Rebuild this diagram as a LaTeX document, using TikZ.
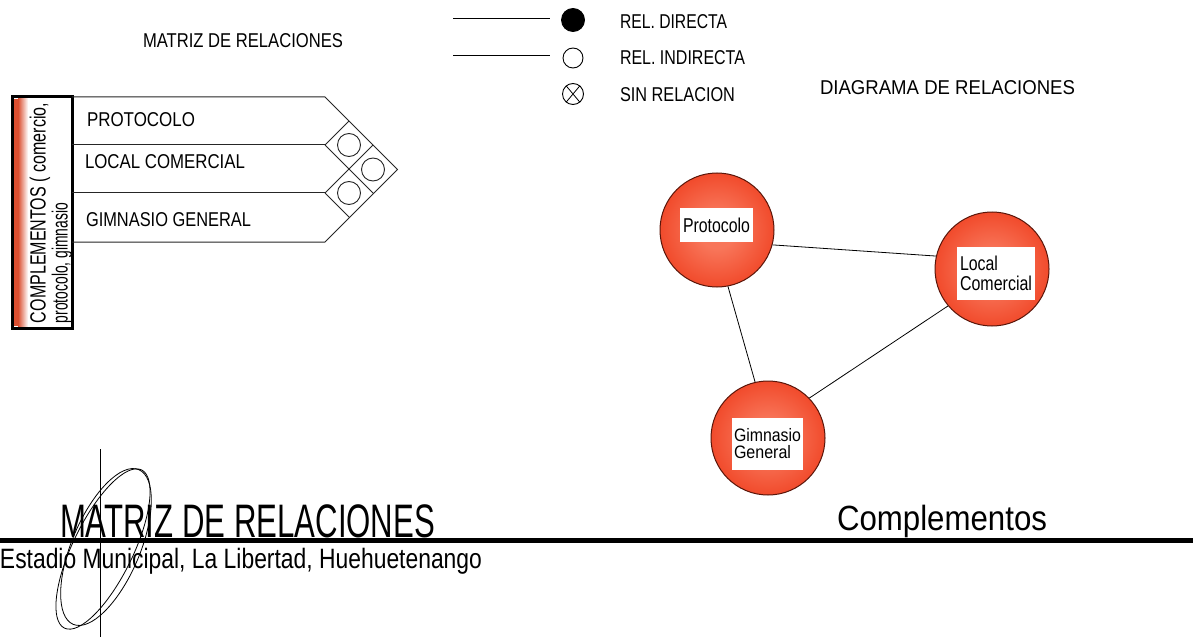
\documentclass[tikz,border=0pt]{standalone}
\usepackage{fontspec}
\setmainfont{Liberation Sans}
\usepackage{graphicx}
\newcommand{\fw}[2]{\resizebox{#1pt}{\height}{#2}}
\definecolor{ballin}{RGB}{248,118,90}
\definecolor{ballmid}{RGB}{239,62,30}
\definecolor{ballout}{RGB}{222,40,16}
\definecolor{ballrim}{RGB}{90,22,10}
\definecolor{stripred}{RGB}{218,78,48}
\pgfdeclareradialshading{redball}{\pgfpoint{0bp}{0bp}}{color(0bp)=(ballin); color(8bp)=(ballin); color(30bp)=(ballmid); color(47bp)=(ballout); color(50bp)=(ballout)}
\tikzset{
  txt/.style={inner sep=0pt, outer sep=0pt},
  bubble/.style={circle, minimum size=114pt, inner sep=0pt, draw=ballrim, line width=1pt, shading=redball},
  lab/.style={fill=white, inner sep=0pt, align=left},
  conn/.style={line width=0.8pt, black},
  mline/.style={line width=1pt, black!85},
  cell/.style={circle, draw=black!85, line width=0.9pt, minimum size=23pt, inner sep=0pt},
  legdot/.style={circle, draw=black, line width=0.9pt, inner sep=0pt},
}
\begin{document}
\begin{tikzpicture}[x=1pt,y=-1pt]
\useasboundingbox (0,0) rectangle (1193,639);
\fill[white] (0,0) rectangle (1193,639);

% ---------- top title ----------
\node[txt, anchor=west, font=\fontsize{20}{20}\selectfont] (mt) at (143,41) {\fw{200}{MATRIZ DE RELACIONES}};

% ---------- legend ----------
\coordinate (l1a) at (453,19);
\coordinate (l1b) at (550,19);
\coordinate (l2a) at (453,56);
\coordinate (l2b) at (550,56);
\node[legdot, fill=black, minimum size=23pt] (d1) at (573,20) {};
\node[legdot, minimum size=20pt] (d2) at (573,58) {};
\node[legdot, minimum size=21pt] (d3) at (573,94) {};
\draw[conn, line width=1pt] (l1a) -- (l1b);
\draw[conn, line width=1pt] (l2a) -- (l2b);
\draw[line width=0.8pt] (d3.50) -- (d3.230) (d3.130) -- (d3.-50);
\node[txt, anchor=west, font=\fontsize{20}{20}\selectfont] (t1) at (620,22) {\fw{107}{REL. DIRECTA}};
\node[txt, anchor=west, font=\fontsize{20}{20}\selectfont] (t2) at (620,58) {\fw{125}{REL. INDIRECTA}};
\node[txt, anchor=west, font=\fontsize{20}{20}\selectfont] (t3) at (620,95) {\fw{115}{SIN RELACION}};

\node[txt, anchor=west, font=\fontsize{20}{20}\selectfont] (dt) at (820,88) {\fw{255}{DIAGRAMA DE RELACIONES}};

% ---------- matrix ----------
\fill[stripred] (14,99) rectangle (18,326);
\shade[left color=stripred, right color=white] (18,99) rectangle (28,326);
\draw[line width=3pt] (12,97) rectangle (72,328);
\node[txt, rotate=90, anchor=west, font=\fontsize{22}{22}\selectfont] (v1) at (40,323) {\fw{220}{COMPLEMENTOS ( comercio,}};
\node[txt, rotate=90, anchor=west, font=\fontsize{22}{22}\selectfont] (v2) at (62,323) {\fw{120}{protocolo, gimnasio}};

\draw[mline] (72,97) -- (325,97) -- (397.5,169.5) -- (325,242) -- (72,242);
\draw[mline] (72,145) -- (325,145);
\draw[mline] (72,193) -- (325,193);
\draw[mline] (325,145) -- (373.5,193.5);
\draw[mline] (325,193) -- (349.5,217.5);
\draw[mline] (325,193) -- (373,145);
\draw[mline] (325,145) -- (349,121);
\node[cell] (c12) at (349,145) {};
\node[cell] (c23) at (349,193) {};
\node[cell] (c13) at (373,169.5) {};

\node[txt, anchor=west, font=\fontsize{20}{20}\selectfont] (r1) at (87,120) {\fw{108}{PROTOCOLO}};
\node[txt, anchor=west, font=\fontsize{20}{20}\selectfont] (r2) at (85,162) {\fw{160}{LOCAL COMERCIAL}};
\node[txt, anchor=west, font=\fontsize{20}{20}\selectfont] (r3) at (86,220) {\fw{165}{GIMNASIO GENERAL}};

% ---------- relation diagram ----------
\node[bubble] (P) at (717,230) {};
\node[bubble] (L) at (992,269) {};
\node[bubble] (G) at (768,438) {};
\draw[conn] (P.-15) -- (L.167);
\draw[conn] (P.-79) -- (G.103);
\draw[conn] (L.220) -- (G.44);
\node[lab, minimum width=73pt, minimum height=34pt, font=\fontsize{20}{20}\selectfont] (Pl) at (716.5,225) {\fw{67}{Protocolo}};
\node[lab, minimum width=78pt, minimum height=53pt, font=\fontsize{20}{20}\selectfont] (Ll) at (996,273.5) {\fw{38}{Local}\\\fw{72}{Comercial}};
\node[lab, minimum width=71pt, minimum height=52pt, font=\fontsize{18}{17}\selectfont] (Gl) at (767.5,444) {\fw{67}{Gimnasio}\\\fw{57}{General}};

% ---------- bottom title block ----------
\coordinate (bl) at (0,540);
\coordinate (br) at (1193,540);
\draw[line width=5pt] (bl) -- (br);
\node[txt, anchor=base west, font=\fontsize{47}{47}\selectfont] (bt) at (60,537) {\fw{375}{MATRIZ DE RELACIONES}};
\node[txt, anchor=base west, font=\fontsize{28}{28}\selectfont] (bs) at (0,568) {\fw{482}{Estadio Municipal, La Libertad, Huehuetenango}};
\node[txt, anchor=base west, font=\fontsize{35}{35}\selectfont] (bc) at (837,530) {\fw{210}{Complementos}};

\coordinate (sk1) at (100,449);
\coordinate (sk2) at (100,637);
\draw[line width=0.8pt] (sk1) -- (sk2);
\draw[line width=0.8pt, rotate around={64:(103,549)}] (103,549) ellipse [x radius=88, y radius=30];
\draw[line width=0.8pt, rotate around={67:(106,547)}] (106,547) ellipse [x radius=84, y radius=34];
\end{tikzpicture}
\end{document}
